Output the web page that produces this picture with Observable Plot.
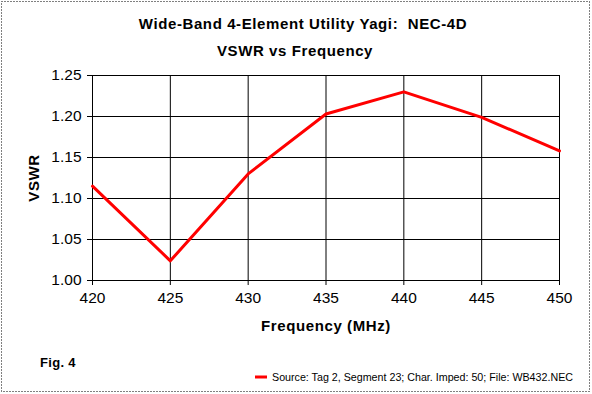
<!DOCTYPE html>
<html>
<head>
<meta charset="utf-8">
<script src="https://cdn.jsdelivr.net/npm/d3@7"></script>
<script src="https://cdn.jsdelivr.net/npm/@observablehq/plot@0.6"></script>
<style>
  html, body { margin: 0; padding: 0; background: #fff; }
  #chart { position: relative; width: 592px; height: 394px; }
  svg { font-family: Arial, "Liberation Sans", sans-serif; }
</style>
</head>
<body>
<div id="chart"></div>
<script>
const titleLines = ["Wide-Band 4-Element Utility Yagi:  NEC-4D", "VSWR vs Frequency"];
const xLabel = "Frequency (MHz)";
const yLabel = "VSWR";
const figLabel = "Fig. 4";
const seriesName = "Source: Tag 2, Segment 23; Char. Imped: 50; File: WB432.NEC";
const frequency = [420, 425, 430, 435, 440, 445, 450];
const vswr = [1.115, 1.024, 1.130, 1.203, 1.230, 1.199, 1.158];
const xTicks = [420, 425, 430, 435, 440, 445, 450];
const yTicks = [1.00, 1.05, 1.10, 1.15, 1.20, 1.25];

const data = frequency.map((f, i) => ({f, v: vswr[i]}));

const W = 592, H = 394;
const plot = Plot.plot({
  width: W,
  height: H,
  marginLeft: 92,
  marginRight: 33,
  marginTop: 75,
  marginBottom: 114,
  style: {fontFamily: "Arial, 'Liberation Sans', sans-serif", background: "#fff", color: "#000"},
  x: {domain: [420, 450], ticks: xTicks, label: null},
  y: {domain: [1.0, 1.25], ticks: yTicks, label: null},
  marks: [
    Plot.gridX(xTicks, {stroke: "#000", strokeOpacity: 1, strokeWidth: 1}),
    Plot.gridY(yTicks, {stroke: "#000", strokeOpacity: 1, strokeWidth: 1}),
    Plot.axisX({ticks: xTicks, tickSize: 5, tickPadding: 6, fontSize: 15.5, tickFormat: d => String(d), label: null}),
    Plot.axisY({ticks: yTicks, tickSize: 5, tickPadding: 6, fontSize: 15.5, tickFormat: d => d.toFixed(2), label: null}),
    Plot.ruleX([420], {stroke: "#000", strokeWidth: 1}),
    Plot.ruleY([1.0], {stroke: "#000", strokeWidth: 1}),
    Plot.line(data, {x: "f", y: "v", stroke: "#ff0000", strokeWidth: 3})
  ]
});
document.getElementById("chart").appendChild(plot);

const svg = d3.select(plot);
// dotted outer border
svg.append("rect").attr("x", 1.5).attr("y", 1.5).attr("width", W - 4).attr("height", H - 4)
  .attr("fill", "none").attr("stroke", "#000").attr("stroke-width", 1).attr("stroke-dasharray", "1,2");

const bold = (sel) => sel.attr("font-size", 15).attr("font-weight", "bold").attr("letter-spacing", 0.6);

bold(svg.append("text").attr("x", 303).attr("y", 29).attr("text-anchor", "middle")
  .style("white-space", "pre")).text(titleLines[0]);
bold(svg.append("text").attr("x", 295).attr("y", 56).attr("text-anchor", "middle")).text(titleLines[1]);

bold(svg.append("text").attr("x", 326).attr("y", 331).attr("text-anchor", "middle")).text(xLabel);
bold(svg.append("text").attr("transform", "translate(39,178) rotate(-90)").attr("text-anchor", "middle")).text(yLabel);

svg.append("text").attr("x", 40).attr("y", 367).attr("text-anchor", "start")
  .attr("font-size", 13).attr("font-weight", "bold").attr("letter-spacing", 0.3).text(figLabel);

svg.append("line").attr("x1", 255).attr("x2", 267).attr("y1", 377).attr("y2", 377)
  .attr("stroke", "#ff0000").attr("stroke-width", 3);
svg.append("text").attr("x", 272).attr("y", 381).attr("text-anchor", "start")
  .attr("font-size", 10.7).text(seriesName);
</script>
</body>
</html>
